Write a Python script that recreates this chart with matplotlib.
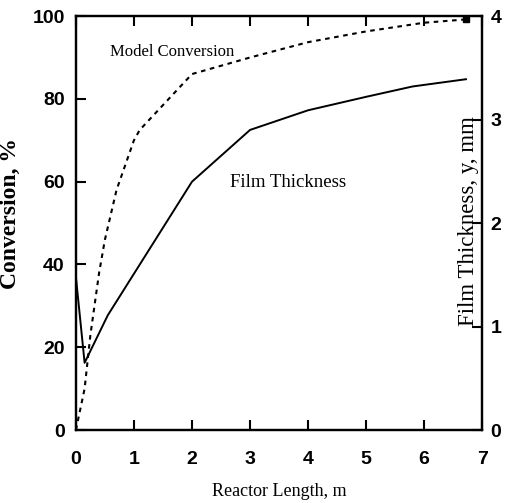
import matplotlib
matplotlib.use("Agg")
import matplotlib.pyplot as plt

# Model conversion (%) vs reactor length (m)
conv_x = [0, 0.15, 0.25, 0.4, 0.5, 0.7, 1.0, 1.1, 2.0, 3.0, 4.0, 5.0, 6.0, 6.72]
conv_y = [0, 10, 23, 38, 46, 58, 70, 72.5, 86, 90, 93.7, 96.3, 98.4, 99.2]

# Film thickness (mm) vs reactor length (m)
film_x = [0, 0.15, 0.55, 2.0, 3.0, 4.0, 5.0, 5.8, 6.72]
film_y = [1.48, 0.65, 1.11, 2.4, 2.9, 3.09, 3.22, 3.32, 3.39]

x_ticks = [0, 1, 2, 3, 4, 5, 6, 7]
conv_ticks = [0, 20, 40, 60, 80, 100]
film_ticks = [0, 1, 2, 3, 4]

serif = "Liberation Serif"
tick_font = ["Liberation Sans Narrow", "Liberation Sans"]

fig = plt.figure(figsize=(5.06, 5.03), dpi=100)
ax = fig.add_axes([0.150, 0.145, 0.803, 0.823])

ax.plot(conv_x, conv_y, color="black", lw=1.5, ls=(0, (2.2, 2.2)))
ax.plot(conv_x[-1:], conv_y[-1:], "s", color="black", ms=5)

ax2 = ax.twinx()
ax2.plot(film_x, film_y, color="black", lw=1.4)

ax.set_xlim(0, 7)
ax.set_ylim(0, 100)
ax2.set_ylim(0, 4)
ax.set_xticks(x_ticks)
ax.set_yticks(conv_ticks)
ax2.set_yticks(film_ticks)

for a in (ax, ax2):
    for s in a.spines.values():
        s.set_linewidth(1.6)

ax.tick_params(axis="both", direction="in", length=7, width=1.5, top=True)
ax.tick_params(axis="y", pad=8)
ax.tick_params(axis="x", pad=15)
ax2.tick_params(axis="y", direction="in", length=7, width=1.5, pad=6)

for lab in ax.get_xticklabels() + ax.get_yticklabels() + ax2.get_yticklabels():
    lab.set_family(tick_font)
    lab.set_fontweight("bold")
    lab.set_fontsize(14)

ax.set_xlabel("Reactor Length, m", family=serif, fontsize=13, labelpad=11)
ax.set_ylabel("Conversion, %", family=serif, fontsize=17, fontweight="bold")
ax.yaxis.set_label_coords(-0.135, 0.524)

ax.text(0.966, 0.505, "Film Thickness, y, mm", transform=ax.transAxes,
        rotation=90, ha="center", va="center", family=serif, fontsize=16.5)

ax.text(1.66, 91.3, "Model Conversion", ha="center", va="center",
        family=serif, fontsize=12)
ax.text(3.65, 59.7, "Film Thickness", ha="center", va="center",
        family=serif, fontsize=13.5)

fig.savefig("out.png", dpi=100)
